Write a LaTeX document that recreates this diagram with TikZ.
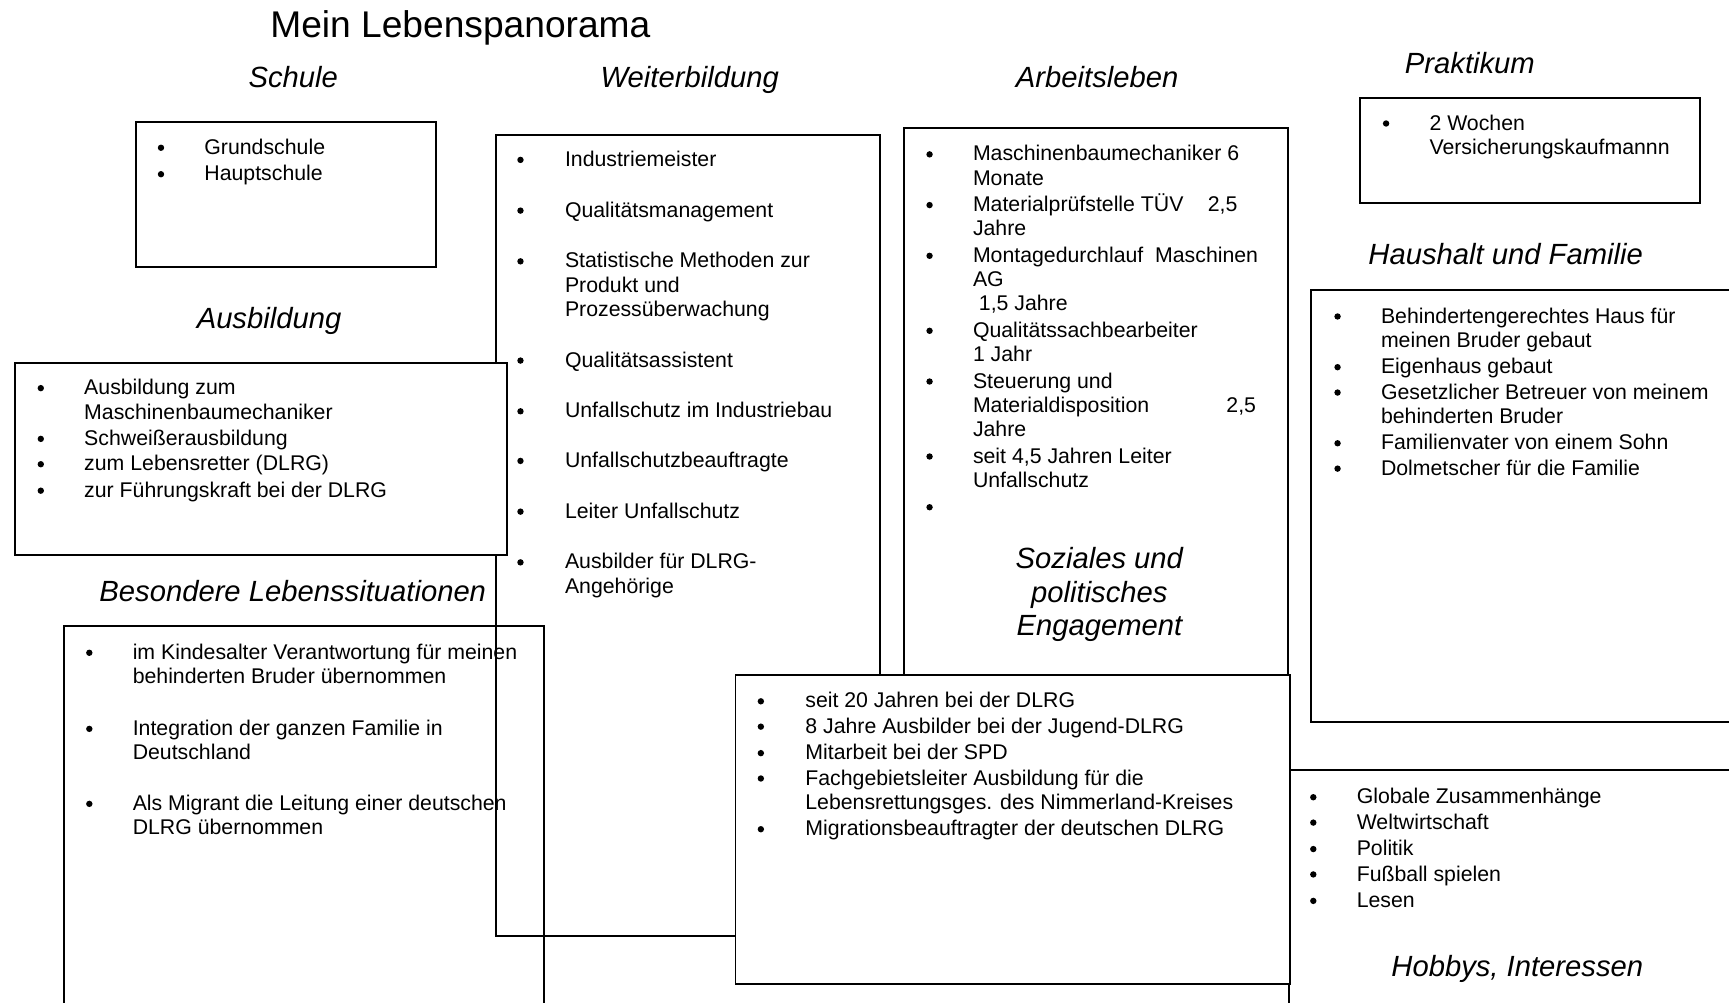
\documentclass[tikz,border=0pt]{standalone}
\usepackage{fontspec}
\setmainfont{Liberation Sans}
\newcommand\bodyfont{\fontsize{9.65}{11}\selectfont}
\newcommand\headfont{\fontsize{13.25}{15.25}\selectfont\itshape}
\newcommand\titlefont{\fontsize{16.85}{19}\selectfont}
\newcommand\lns[1]{\begin{tabular}[t]{@{}l@{}}#1\end{tabular}}
\newcommand\itm[5]{\fill (#1,#3-6) circle (2.9);
  \node[itx] (#4) at (#2,#3) {\lns{#5}};}
\tikzset{
  box/.style={draw=black, line width=0.9pt},
  itx/.style={anchor=base west, inner sep=0pt, font=\bodyfont},
  head/.style={anchor=base, inner sep=0pt, font=\headfont, align=center},
}
\begin{document}
\begin{tikzpicture}[x=0.5pt,y=-0.5pt]
\useasboundingbox (0,0) rectangle (1568,909);
\clip (0,0) rectangle (1568,909);
% boxes
\draw[box] (450,122) rectangle (798,849);
\draw[box] (820,116) rectangle (1168,880);
\draw[box] (58,568) rectangle (493,940);
\draw[box,fill=white] (14,329) rectangle (460,503);
\draw[box] (123,111) rectangle (395,242);
\draw[box] (1233,89) rectangle (1542,184);
\draw[box] (1189,263) rectangle (1600,655);
\draw[box] (1169,698) rectangle (1600,940);
\draw[box,fill=white] (667,612) rectangle (1170,892);
% titles
\node[anchor=base, inner sep=0pt, font=\titlefont] (title) at (417.5,34) {Mein Lebenspanorama};
\node[head] (hschule) at (266,79.5) {Schule};
\node[head] (hweiter) at (625.5,79.5) {Weiterbildung};
\node[head] (harbeit) at (995,79.5) {Arbeitsleben};
\node[head] (hprakt) at (1333,66.5) {Praktikum};
\node[head] (hhaus) at (1365.5,239.5) {Haushalt und Familie};
\node[head] (hausb) at (244,297.5) {Ausbildung};
\node[head] (hbes) at (265.5,545.5) {Besondere Lebenssituationen};
\node[head] (hsoz) at (997,576.5) {Soziales und\\politisches\\Engagement};
\node[head] (hhob) at (1376,885.5) {Hobbys, Interessen};
% Schule
\itm{146}{185}{140}{s1}{Grundschule}
\itm{146}{185}{164}{s2}{Hauptschule}
% Weiterbildung
\itm{472}{512}{151}{w1}{Industriemeister}
\itm{472}{512}{197}{w2}{Qualitätsmanagement}
\itm{472}{512}{243}{w3}{Statistische Methoden zur\\Produkt und\\Prozessüberwachung}
\itm{472}{512}{333}{w4}{Qualitätsassistent}
\itm{472}{512}{379}{w5}{Unfallschutz im Industriebau}
\itm{472}{512}{424}{w6}{Unfallschutzbeauftragte}
\itm{472}{512}{470}{w7}{Leiter Unfallschutz}
\itm{472}{512}{516}{w8}{Ausbilder für DLRG-\\Angehörige}
% Arbeitsleben
\itm{843}{882}{146}{a1}{Maschinenbaumechaniker 6\\Monate}
\itm{843}{882}{192}{a2}{Materialprüfstelle TÜV\hspace{11pt}2,5\\Jahre}
\itm{843}{882}{238}{a3}{Montagedurchlauf\ \ Maschinen\\AG\\\ 1,5 Jahre}
\itm{843}{882}{306}{a4}{Qualitätssachbearbeiter\\1 Jahr}
\itm{843}{882}{352}{a5}{Steuerung und\\Materialdisposition\hspace{35pt}2,5\\Jahre}
\itm{843}{882}{420}{a6}{seit 4,5 Jahren Leiter\\Unfallschutz}
\fill (843,460) circle (2.9);
% Praktikum
\itm{1257}{1296}{118}{p1}{2 Wochen\\Versicherungskaufmannn}
% Haushalt
\itm{1213}{1252}{293}{h1}{Behindertengerechtes Haus für\\meinen Bruder gebaut}
\itm{1213}{1252}{339}{h2}{Eigenhaus gebaut}
\itm{1213}{1252}{362}{h3}{Gesetzlicher Betreuer von meinem\\behinderten Bruder}
\itm{1213}{1252}{408}{h4}{Familienvater von einem Sohn}
\itm{1213}{1252}{431}{h5}{Dolmetscher für die Familie}
% Ausbildung
\itm{37}{76}{358}{b1}{Ausbildung zum\\Maschinenbaumechaniker}
\itm{37}{76}{404}{b2}{Schweißerausbildung}
\itm{37}{76}{427}{b3}{zum Lebensretter (DLRG)}
\itm{37}{76}{451}{b4}{zur Führungskraft bei der DLRG}
% Besondere
\itm{81}{120}{598}{l1}{im Kindesalter Verantwortung für meinen\\behinderten Bruder übernommen}
\itm{81}{120}{667}{l2}{Integration der ganzen Familie in\\Deutschland}
\itm{81}{120}{735}{l3}{Als Migrant die Leitung einer deutschen\\DLRG übernommen}
% Soziales
\itm{690}{730}{642}{z1}{seit 20 Jahren bei der DLRG}
\itm{690}{730}{665}{z2}{8 Jahre Ausbilder bei der Jugend-DLRG}
\itm{690}{730}{689}{z3}{Mitarbeit bei der SPD}
\itm{690}{730}{712}{z4}{Fachgebietsleiter Ausbildung für die\\Lebensrettungsges. des Nimmerland-Kreises}
\itm{690}{730}{758}{z5}{Migrationsbeauftragter der deutschen DLRG}
% Hobbys
\itm{1191}{1230}{729}{o1}{Globale Zusammenhänge}
\itm{1191}{1230}{752}{o2}{Weltwirtschaft}
\itm{1191}{1230}{776}{o3}{Politik}
\itm{1191}{1230}{799}{o4}{Fußball spielen}
\itm{1191}{1230}{823}{o5}{Lesen}
\end{tikzpicture}
\end{document}
